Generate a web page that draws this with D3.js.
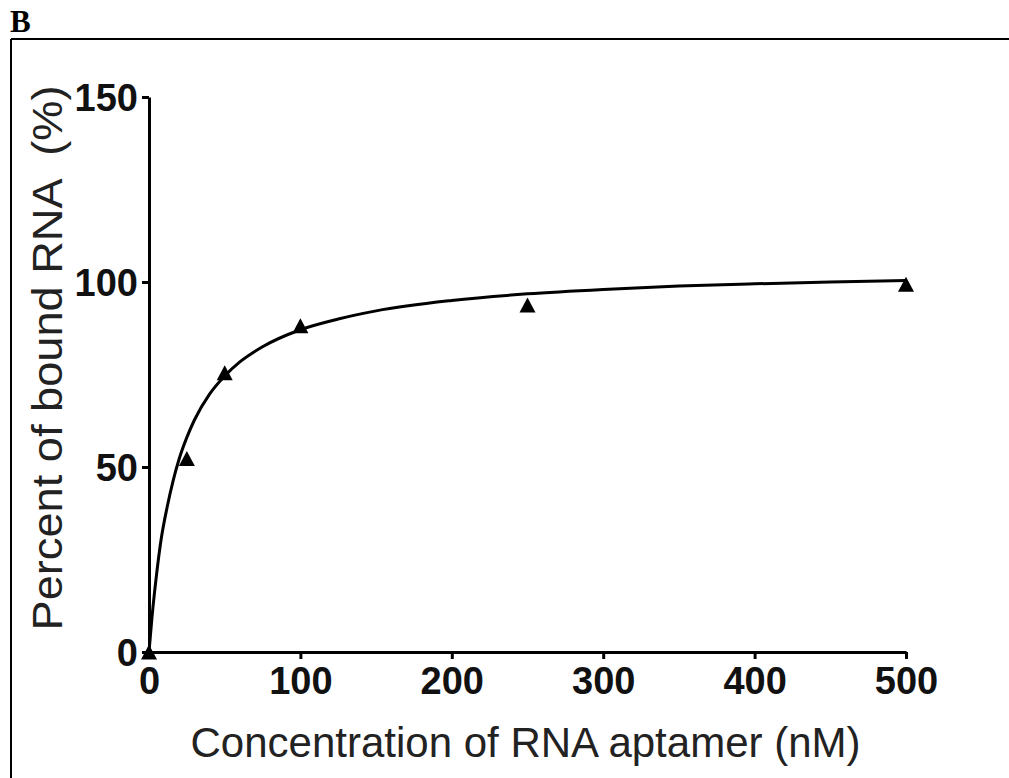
<!DOCTYPE html>
<html>
<head>
<meta charset="utf-8">
<script src="https://cdn.jsdelivr.net/npm/d3@7"></script>
<style>
  html, body { margin: 0; padding: 0; background: #fff; }
  svg { display: block; }
</style>
</head>
<body>
<svg id="chart" width="1009" height="778"></svg>
<script>
// Measured data (triangles)
const concentrations = [0, 25, 50, 100, 250, 500];
const percentBound = [0, 52.3, 75.5, 88.2, 93.8, 99.4];

// Fitted curve
const curveX = [0, 2, 5, 8, 12, 16, 20, 25, 30, 40, 50, 60, 75, 100, 125, 150, 200, 250, 300, 350, 400, 450, 500];
const curveY = [0, 9.5, 21, 30.4, 39.2, 46.4, 52.3, 58, 62.7, 69.7, 74.6, 78.4, 82.5, 87.1, 90, 92.2, 95, 96.8, 98, 98.9, 99.5, 100, 100.4];

const xTicks = [0, 100, 200, 300, 400, 500];
const yTicks = [0, 50, 100, 150];

const panelLabel = "B";
const xTitle = "Concentration of RNA aptamer (nM)";
const yTitle = "Percent of bound RNA  (%)";

const svg = d3.select("#chart");

const x = d3.scaleLinear().domain([0, 500]).range([149, 906]);
const y = d3.scaleLinear().domain([0, 150]).range([652, 97]);

// Frame lines
svg.append("line").attr("x1", 11).attr("x2", 1009).attr("y1", 39).attr("y2", 39)
  .attr("stroke", "#000").attr("stroke-width", 2);
svg.append("line").attr("x1", 11).attr("x2", 11).attr("y1", 39).attr("y2", 778)
  .attr("stroke", "#000").attr("stroke-width", 2);

// Panel label
svg.append("text").attr("x", 10).attr("y", 32)
  .attr("font-family", "Liberation Serif, Times New Roman, serif")
  .attr("font-weight", "bold").attr("font-size", 31).attr("fill", "#000")
  .text(panelLabel);

// Axes
const xAxis = d3.axisBottom(x).tickValues(xTicks).tickSize(7).tickSizeOuter(0).tickPadding(8);
const yAxis = d3.axisLeft(y).tickValues(yTicks).tickSize(7).tickSizeOuter(0).tickPadding(4);

const gx = svg.append("g").attr("transform", `translate(0,${y(0)})`).call(xAxis);
const gy = svg.append("g").attr("transform", `translate(${x(0)},0)`).call(yAxis);

[gx, gy].forEach(g => {
  g.select(".domain").attr("stroke", "#000").attr("stroke-width", 3);
  g.selectAll(".tick line").attr("stroke", "#000").attr("stroke-width", 3);
  g.selectAll(".tick text")
    .attr("font-family", "Liberation Sans, Arial, sans-serif")
    .attr("font-weight", "bold").attr("font-size", 38).attr("fill", "#111");
});
gx.selectAll(".tick text").attr("dy", "0.71em");
gy.selectAll(".tick text").attr("dy", "0.35em");

// Curve
const line = d3.line().x(d => x(d[0])).y(d => y(d[1])).curve(d3.curveMonotoneX);
svg.append("path")
  .datum(curveX.map((v, i) => [v, curveY[i]]))
  .attr("d", line)
  .attr("fill", "none").attr("stroke", "#000").attr("stroke-width", 3);

// Triangles
const tw = 16, th = 15;
svg.append("g").selectAll("path")
  .data(concentrations.map((c, i) => [c, percentBound[i]]))
  .join("path")
  .attr("transform", d => `translate(${x(d[0])},${y(d[1])})`)
  .attr("d", `M0,${-th/2} L${tw/2},${th/2} L${-tw/2},${th/2} Z`)
  .attr("fill", "#000");

// Axis titles
svg.append("text")
  .attr("x", (x(0) + x(500)) / 2 - 2).attr("y", 757)
  .attr("text-anchor", "middle")
  .attr("font-family", "Liberation Sans, Arial, sans-serif")
  .attr("font-size", 42).attr("fill", "#222")
  .text(xTitle);

svg.append("text")
  .attr("transform", `translate(62,${358}) rotate(-90)`)
  .attr("text-anchor", "middle")
  .attr("font-family", "Liberation Sans, Arial, sans-serif")
  .attr("font-size", 43).attr("fill", "#222")
  .attr("textLength", 545)
  .attr("lengthAdjust", "spacingAndGlyphs")
  .attr("xml:space", "preserve")
  .style("white-space", "pre")
  .text(yTitle);
</script>
</body>
</html>
